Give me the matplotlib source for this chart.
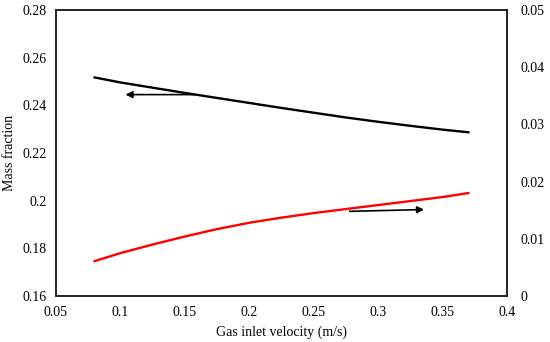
import matplotlib
matplotlib.use("Agg")
import matplotlib.pyplot as plt

plt.rcParams['font.family'] = ['Liberation Serif', 'DejaVu Serif']

velocity = [0.08, 0.10, 0.125, 0.15, 0.175, 0.20, 0.225, 0.25, 0.275, 0.30, 0.325, 0.35, 0.37]
mass_left = [0.2517, 0.2496, 0.2474, 0.2452, 0.2431, 0.2410, 0.2389, 0.2369, 0.2349, 0.2331, 0.2314, 0.2298, 0.2287]
mass_right = [0.0061, 0.0075, 0.0090, 0.0104, 0.0117, 0.0128, 0.0137, 0.0145, 0.0152, 0.0159, 0.0166, 0.0173, 0.0180]

x_ticks = [0.05, 0.1, 0.15, 0.2, 0.25, 0.3, 0.35, 0.4]
x_labels = ["0.05", "0.1", "0.15", "0.2", "0.25", "0.3", "0.35", "0.4"]
yl_ticks = [0.16, 0.18, 0.2, 0.22, 0.24, 0.26, 0.28]
yl_labels = ["0.16", "0.18", "0.2", "0.22", "0.24", "0.26", "0.28"]
yr_ticks = [0, 0.01, 0.02, 0.03, 0.04, 0.05]
yr_labels = ["0", "0.01", "0.02", "0.03", "0.04", "0.05"]

fig = plt.figure(figsize=(5.5, 3.42), dpi=100)
ax = fig.add_axes([56/550, 1-296/342, (507-56)/550, (296-10)/342])
ax2 = ax.twinx()

ax.plot(velocity, mass_left, color='black', lw=1.7)
ax2.plot(velocity, mass_right, color='red', lw=1.7)

ax.set_xlim(0.05, 0.4)
ax.set_ylim(0.16, 0.28)
ax2.set_ylim(0, 0.05)
ax.set_xticks(x_ticks, x_labels)
ax.set_yticks(yl_ticks, yl_labels)
ax2.set_yticks(yr_ticks, yr_labels)

ax.tick_params(length=0, labelsize=10, pad=7)
ax2.tick_params(length=0, labelsize=10, pad=10)
for a in (ax, ax2):
    for s in a.spines.values():
        s.set_linewidth(1.2)
        s.set_color('#222222')

ax.set_xlabel("Gas inlet velocity (m/s)", fontsize=10, labelpad=5)
ax.set_ylabel("Mass fraction", fontsize=10, labelpad=4)

ax.annotate("", xy=(0.1018, 0.2445), xytext=(0.1595, 0.2445),
            arrowprops=dict(arrowstyle="-|>", color='black', lw=1.2, mutation_scale=10))
ax.annotate("", xy=(0.3378, 0.1963), xytext=(0.2757, 0.1955),
            arrowprops=dict(arrowstyle="-|>", color='black', lw=1.2, mutation_scale=10))

fig.savefig("out.png", dpi=100)
